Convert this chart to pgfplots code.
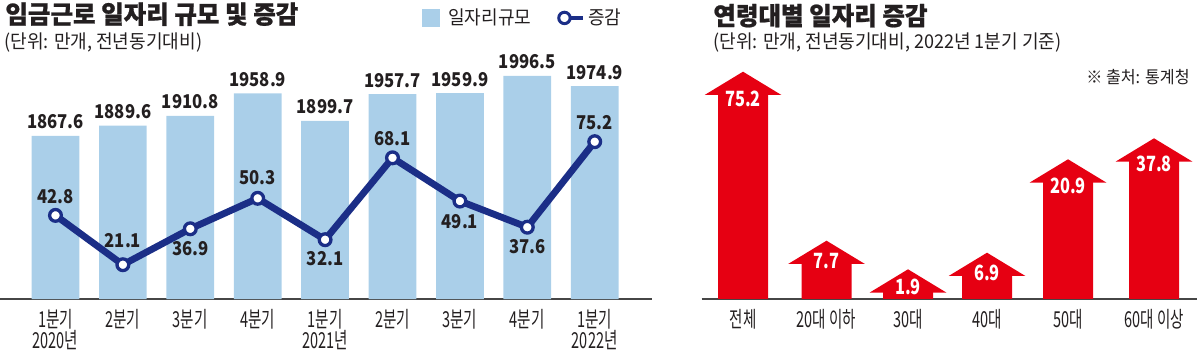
\documentclass[border=0pt]{standalone}
\usepackage{pgfplots}
\pgfplotsset{compat=1.18}
\usepackage{pgfplotstable}
\usepackage{fontspec}
\setmainfont{Noto Sans CJK KR}
\newfontfamily\ttlf{Noto Sans CJK KR}[FakeStretch=0.98, BoldFeatures={FakeBold=0.8}]
\newfontfamily\subf{Noto Sans CJK KR}[FakeStretch=0.95]
\newfontfamily\tickf{Noto Sans CJK KR}[FakeStretch=0.66]
\newfontfamily\numf{Noto Sans CJK KR}[FakeStretch=0.88]
\newfontfamily\arrf{Noto Sans CJK KR}[FakeStretch=0.78]
\definecolor{barblue}{RGB}{170,207,233}
\definecolor{navy}{RGB}{27,46,135}
\definecolor{arrowred}{RGB}{230,0,18}
\definecolor{axisgray}{RGB}{70,70,70}
\definecolor{textcol}{RGB}{35,31,32}
\pgfdeclareplotmark{arrowhead}{%
  \pgfpathmoveto{\pgfqpoint{-19.2pt}{-11.65pt}}%
  \pgfpathlineto{\pgfqpoint{19.2pt}{-11.65pt}}%
  \pgfpathlineto{\pgfqpoint{0pt}{0pt}}%
  \pgfpathclose\pgfusepathqfill}

\pgfplotstableread{
x size chg dy
0 1867.6 42.8 5.75
1 1889.6 21.1 8.4
2 1910.8 36.9 -13.5
3 1958.9 50.3 6.75
4 1899.7 32.1 -13
5 1957.7 68.1 6.25
6 1959.9 49.1 -13.5
7 1996.5 37.6 -13
8 1974.9 75.2 6.25
}\leftdata

\pgfplotstableread{
x h val dy
743 227.3 75.2 17.5
826.5 58.3 7.7 14
908 29.7 1.9 12.85
987 46.3 6.9 14.15
1068 139.7 20.9 17
1154 160.7 37.8 16.7
}\rightdata

\begin{document}
\begin{tikzpicture}
\useasboundingbox (0,0) rectangle (598.5pt,176.5pt);

% ---------- left: bars ----------
\begin{axis}[at={(0pt,27pt)}, anchor=south west, scale only axis,
  width=326pt, height=149.5pt,
  xmin=-0.823, xmax=8.85, ymin=1516.8, ymax=2160,
  axis x line*=bottom, axis y line=none,
  x axis line style={-, line width=1pt, draw=axisgray},
  xtick={0,...,8},
  xticklabels={{1분기\\2020년},2분기,3분기,4분기,{1분기\\2021년},2분기,3분기,4분기,{1분기\\2022년}},
  major tick length=0pt,
  xticklabel style={align=center, font=\tickf\fontsize{11}{10.5}\selectfont,
    anchor=north, yshift=-5pt, inner sep=0pt, text=textcol},
  ]
\addplot[ybar, bar shift=0pt, bar width=23.85pt, fill=barblue, draw=none,
  nodes near coords, point meta=explicit symbolic,
  every node near coord/.append style={anchor=base, yshift=3.5pt, inner sep=0pt,
    font=\numf\bfseries\fontsize{9.5}{11}\selectfont, text=textcol}]
  table[x=x, y=size, meta=size] {\leftdata};
\end{axis}

% ---------- left: line ----------
\begin{axis}[at={(0pt,27pt)}, anchor=south west, scale only axis,
  width=326pt, height=149.5pt,
  xmin=-0.823, xmax=8.85, ymin=6.03, ymax=137.5,
  hide axis, clip=false,
  legend columns=2,
  legend style={at={(axis description cs:0.6468,0.94)}, anchor=west,
    draw=none, fill=none, inner sep=0pt, outer sep=0pt,
    font=\subf\fontsize{9.5}{11}\selectfont, text=textcol,
    nodes={inner sep=0pt},
    /tikz/column 1/.style={column sep=4pt},
    /tikz/column 2/.style={column sep=13pt},
    /tikz/column 3/.style={column sep=1.5pt}},
  ]
\addlegendimage{legend image code/.code={\fill[barblue] (0pt,-4.2pt) rectangle (8.85pt,4.2pt);}}
\addlegendentry{일자리규모}
\addlegendimage{legend image code/.code={\draw[navy, line width=2pt] (3.6pt,0pt) -- (13pt,0pt);
   \draw[navy, line width=1.5pt, fill=white] (3.6pt,0pt) circle (2.85pt);}}
\addlegendentry{증감}
\addplot[navy, line width=3.4pt, mark=*, mark size=2.93pt,
  mark options={fill=white, draw=navy, line width=1.65pt},
  nodes near coords, point meta=explicit symbolic,
  visualization depends on={\thisrow{dy} \as \labdy},
  every node near coord/.append style={anchor=base, yshift=\labdy pt, inner sep=0pt,
    font=\numf\bfseries\fontsize{9.5}{11}\selectfont, text=textcol}]
  table[x=x, y=chg, meta=chg] {\leftdata};
\end{axis}

% ---------- right: arrows ----------
\begin{axis}[at={(350.85pt,27pt)}, anchor=south west, scale only axis,
  width=247.65pt, height=119.5pt,
  xmin=701.7, xmax=1197, ymin=0, ymax=239,
  axis x line*=bottom, axis y line=none,
  x axis line style={-, line width=1pt, draw=axisgray},
  xtick={743,826.5,908,987,1068,1154},
  xticklabels={전체,20대 이하,30대,40대,50대,60대 이상},
  major tick length=0pt,
  xticklabel style={font=\tickf\fontsize{11}{10.5}\selectfont,
    anchor=north, yshift=-5pt, inner sep=0pt, text=textcol},
  clip=false,
  ]
\addplot[ybar, bar shift=0pt, bar width=25pt, fill=arrowred, draw=none]
  table[x=x, y expr=\thisrow{h}-22.5] {\rightdata};
\addplot[only marks, mark=arrowhead, mark options={fill=arrowred, draw=none},
  nodes near coords, point meta=explicit symbolic,
  visualization depends on={\thisrow{dy} \as \ady},
  every node near coord/.append style={anchor=base, yshift=-\ady pt, inner sep=0pt,
    font=\arrf\bfseries\fontsize{10.5}{12}\selectfont, text=white}]
  table[x=x, y=h, meta=val] {\rightdata};
\end{axis}

% ---------- titles ----------
\node[anchor=base west, inner sep=0pt, text=textcol, font=\ttlf\bfseries\fontsize{12.5}{14}\selectfont]
  at (2.5pt,164.75pt) {임금근로 일자리 규모 및 증감};
\node[anchor=base west, inner sep=0pt, text=textcol, font=\subf\fontsize{9.5}{11}\selectfont]
  at (2pt,152.15pt) {(단위: 만개, 전년동기대비)};
\node[anchor=base west, inner sep=0pt, text=textcol, font=\ttlf\bfseries\fontsize{12.5}{14}\selectfont]
  at (356.5pt,164pt) {연령대별 일자리 증감};
\node[anchor=base west, inner sep=0pt, text=textcol, font=\subf\fontsize{9.5}{11}\selectfont]
  at (356.5pt,152.25pt) {(단위: 만개, 전년동기대비, 2022년 1분기 기준)};
\node[anchor=base east, inner sep=0pt, text=textcol, font=\subf\fontsize{8.5}{10}\selectfont]
  at (595pt,134.5pt) {※ 출처: 통계청};
\end{tikzpicture}
\end{document}
